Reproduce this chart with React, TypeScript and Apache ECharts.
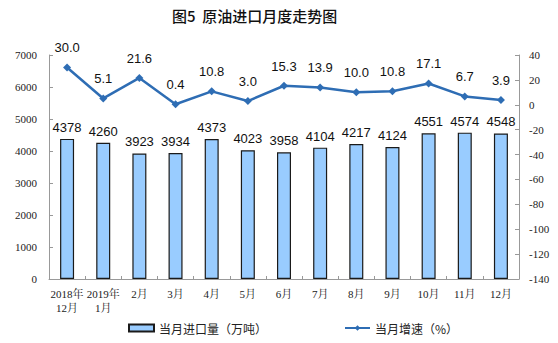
import React, { useEffect, useRef } from "react";
import * as echarts from "echarts";

const categories = ["2018年\n12月", "2019年\n1月", "2月", "3月", "4月", "5月", "6月", "7月", "8月", "9月", "10月", "11月", "12月"];
const importVolume = [4378, 4260, 3923, 3934, 4373, 4023, 3958, 4104, 4217, 4124, 4551, 4574, 4548];
const growthRate = [30.0, 5.1, 21.6, 0.4, 10.8, 3.0, 15.3, 13.9, 10.0, 10.8, 17.1, 6.7, 3.9];
const leftTicks = { min: 0, max: 7000, interval: 1000 };
const rightTicks = { min: -140, max: 40, interval: 20 };

const serif = "'Liberation Serif', 'Noto Serif CJK SC', 'Noto Sans CJK SC', serif";
const sans = "'Liberation Sans', Arial, 'Noto Sans CJK SC', sans-serif";

export default function App() {
  const ref = useRef<HTMLDivElement>(null);
  useEffect(() => {
    if (!ref.current) return;
    const chart = echarts.init(ref.current, null, { renderer: "svg" });
    chart.setOption({
      animation: false,
      backgroundColor: "#ffffff",
      title: {
        text: "图5  原油进口月度走势图",
        left: 167,
        top: 3,
        textStyle: { fontFamily: "'Noto Sans CJK SC', sans-serif", fontSize: 15, fontWeight: 500, color: "#111" },
      },
      grid: { left: 49, right: 39, top: 55, bottom: 64 },
      legend: {
        bottom: 4,
        left: 123,
        itemGap: 77,
        itemWidth: 25,
        itemHeight: 7,
        textStyle: { fontFamily: "'Noto Sans CJK SC', sans-serif", fontSize: 12, color: "#222" },
        data: [
          { name: "当月进口量（万吨）", icon: "rect" },
          { name: "当月增速（%）" },
        ],
      },
      xAxis: {
        type: "category",
        data: categories,
        axisLine: { lineStyle: { color: "#999" } },
        axisTick: { show: true, inside: true, length: 3, lineStyle: { color: "#999" } },
        axisLabel: { fontFamily: serif, fontSize: 11, color: "#222", interval: 0, lineHeight: 14, margin: 8 },
      },
      yAxis: [
        {
          type: "value",
          min: leftTicks.min,
          max: leftTicks.max,
          interval: leftTicks.interval,
          splitLine: { show: false },
          axisLine: { show: true, lineStyle: { color: "#999" } },
          axisTick: { show: true, inside: true, length: 4, lineStyle: { color: "#999" } },
          axisLabel: { fontFamily: serif, fontSize: 11, color: "#222", margin: 12, formatter: (v: number) => String(v) },
        },
        {
          type: "value",
          min: rightTicks.min,
          max: rightTicks.max,
          interval: rightTicks.interval,
          splitLine: { show: false },
          axisLine: { show: true, lineStyle: { color: "#999" } },
          axisTick: { show: true, inside: true, length: 4, lineStyle: { color: "#999" } },
          axisLabel: { fontFamily: serif, fontSize: 11, color: "#222", margin: 10, formatter: (v: number) => String(v) },
        },
      ],
      series: [
        {
          name: "当月进口量（万吨）",
          type: "bar",
          data: importVolume,
          barWidth: 14,
          itemStyle: { color: "#99CCFF", borderColor: "#1a1a1a", borderWidth: 1.2 },
          label: { show: true, position: "top", distance: 5, fontFamily: sans, fontSize: 13, color: "#111" },
        },
        {
          name: "当月增速（%）",
          type: "line",
          yAxisIndex: 1,
          data: growthRate,
          symbol: "diamond",
          symbolSize: 8,
          lineStyle: { color: "#2E6DB4", width: 2.5 },
          itemStyle: { color: "#2E6DB4" },
          label: {
            show: true,
            position: "top",
            distance: 9,
            fontFamily: sans,
            fontSize: 13,
            color: "#111",
            formatter: (p: any) => Number(p.value).toFixed(1),
          },
        },
      ],
    });
    return () => chart.dispose();
  }, []);
  return <div ref={ref} style={{ width: 558, height: 343, position: "absolute", left: 0, top: 0 }} />;
}
